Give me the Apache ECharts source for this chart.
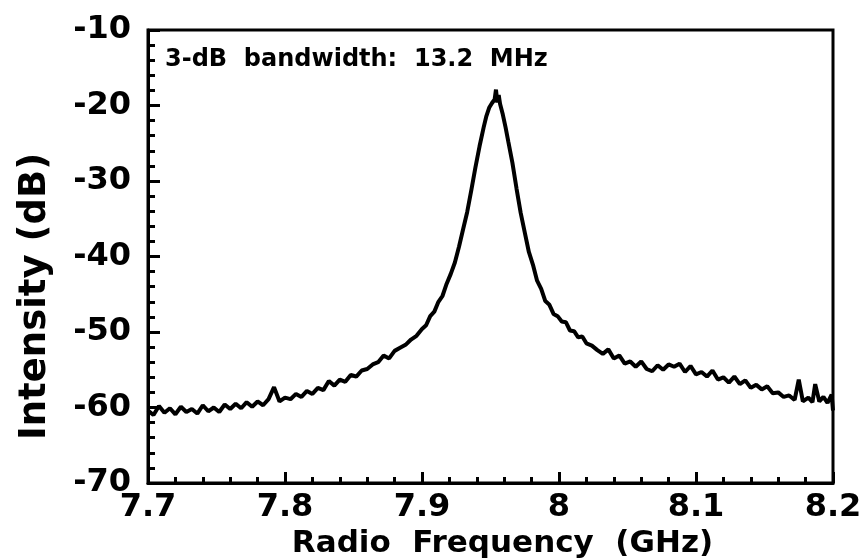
<!DOCTYPE html>
<html>
<head>
<meta charset="utf-8">
<script src="https://cdn.jsdelivr.net/npm/echarts@6/dist/echarts.min.js"></script>
<style>html,body{margin:0;padding:0;background:#fff}#c{width:863px;height:559px}</style>
</head>
<body>
<div id="c"></div>
<script>
// Frequency (GHz)
var freq = [
7.700,7.704,7.708,7.712,7.716,7.720,7.724,7.728,7.732,7.736,7.740,7.744,7.748,7.752,7.756,7.760,7.764,7.768,7.772,7.776,
7.780,7.784,7.788,7.792,7.796,7.800,7.804,7.808,7.812,7.816,7.820,7.824,7.828,7.832,7.836,7.840,7.844,7.848,7.852,7.856,
7.860,7.864,7.868,7.872,7.876,7.880,7.884,7.888,7.892,7.896,7.900,7.903,7.906,7.909,7.912,7.915,7.918,7.921,7.924,7.927,
7.930,7.933,7.936,7.939,7.942,7.945,7.947,7.949,7.951,7.953,7.954,7.955,7.956,7.957,7.959,7.961,7.963,7.966,7.969,7.972,
7.975,7.978,7.981,7.984,7.987,7.990,7.993,7.996,7.999,8.002,8.005,8.008,8.011,8.014,8.017,8.020,8.024,8.028,8.032,8.036,
8.040,8.044,8.048,8.052,8.056,8.060,8.064,8.068,8.072,8.076,8.080,8.084,8.088,8.092,8.096,8.100,8.104,8.108,8.112,8.116,
8.120,8.124,8.128,8.132,8.136,8.140,8.144,8.148,8.152,8.156,8.160,8.164,8.168,8.172,8.175,8.178,8.182,8.185,8.187,8.190,
8.193,8.196,8.199,8.200
];
// Intensity (dB)
var intensity = [
-60.4,-61.0,-59.8,-60.7,-60.1,-60.9,-59.9,-60.6,-60.2,-60.8,-59.7,-60.5,-60.0,-60.6,-59.6,-60.2,-59.5,-60.1,-59.3,-59.9,
-59.2,-59.7,-58.9,-57.3,-59.2,-58.7,-58.9,-58.2,-58.6,-57.8,-58.2,-57.4,-57.7,-56.5,-57.1,-56.3,-56.6,-55.7,-55.9,-55.1,
-54.9,-54.3,-54.0,-53.1,-53.5,-52.5,-52.1,-51.7,-51.0,-50.5,-49.6,-49.1,-47.9,-47.3,-46.0,-45.2,-43.6,-42.3,-40.8,-38.7,
-36.4,-34.1,-31.2,-28.2,-25.4,-22.9,-21.4,-20.3,-19.7,-19.2,-17.9,-19.6,-18.6,-19.8,-21.2,-22.9,-24.8,-27.6,-31.0,-34.2,
-36.8,-39.4,-41.1,-43.2,-44.3,-45.9,-46.4,-47.6,-47.9,-48.6,-48.7,-49.8,-49.9,-50.7,-50.6,-51.5,-51.8,-52.4,-52.9,-52.3,
-53.5,-53.1,-54.2,-53.9,-54.6,-53.9,-54.9,-55.2,-54.4,-55.0,-54.3,-54.6,-54.2,-55.3,-54.5,-55.6,-55.3,-55.9,-55.1,-56.3,
-56.0,-56.7,-55.9,-56.9,-56.4,-57.4,-57.0,-57.6,-57.2,-58.1,-58.0,-58.6,-58.4,-59.0,-56.3,-59.2,-58.7,-59.3,-56.9,-59.2,
-58.6,-59.4,-58.3,-60.4
];
var xTickLabels = ['7.7','7.8','7.9','8','8.1','8.2'];
var yTickLabels = ['-70','-60','-50','-40','-30','-20','-10'];
var annotation = '3-dB  bandwidth:  13.2  MHz';
var xTitle = 'Radio  Frequency  (GHz)';
var yTitle = 'Intensity (dB)';

var FONT = 'DejaVu Sans';
var pts = freq.map(function (f, i) { return [f, intensity[i]]; });

var chart = echarts.init(document.getElementById('c'), null, {renderer: 'canvas'});
chart.setOption({
  animation: false,
  backgroundColor: '#fff',
  grid: {left: 148, right: 30, top: 30, bottom: 76, containLabel: false, outerBoundsMode: 'none',
         show: true, borderColor: '#000', borderWidth: 3},
  xAxis: {
    type: 'value', min: 7.7, max: 8.2, interval: 0.1,
    axisLine: {show: true, onZero: false, lineStyle: {color: '#000', width: 3}},
    axisTick: {show: true, inside: true, length: 11, lineStyle: {color: '#000', width: 3}},
    minorTick: {show: true, splitNumber: 5, length: 6, lineStyle: {color: '#000', width: 3}},
    splitLine: {show: false},
    axisLabel: {
      margin: 9, color: '#000', fontFamily: FONT, fontWeight: 'bold', fontSize: 32,
      formatter: function (v) { return xTickLabels[Math.round((v - 7.7) * 10)]; }
    },
    name: xTitle, nameLocation: 'middle', nameGap: 45,
    nameTextStyle: {color: '#000', fontFamily: FONT, fontWeight: 'bold', fontSize: 31, padding: [0, 0, 0, 24]}
  },
  yAxis: {
    type: 'value', min: -70, max: -10, interval: 10,
    axisLine: {show: true, onZero: false, lineStyle: {color: '#000', width: 3}},
    axisTick: {show: true, inside: true, length: 12, lineStyle: {color: '#000', width: 3}},
    minorTick: {show: true, splitNumber: 5, length: 7, lineStyle: {color: '#000', width: 3}},
    splitLine: {show: false},
    axisLabel: {
      margin: 17, color: '#000', fontFamily: FONT, fontWeight: 'bold', fontSize: 32,
      padding: [0, 0, 10, 0],
      formatter: function (v) { return yTickLabels[Math.round((v + 70) / 10)]; }
    },
    name: yTitle, nameLocation: 'middle', nameGap: 94, nameRotate: 90,
    nameTextStyle: {color: '#000', fontFamily: FONT, fontWeight: 'bold', fontSize: 37, padding: [0, 80, 0, 0]}
  },
  graphic: [{
    type: 'text', left: 165, top: 48,
    style: {text: annotation, fill: '#000', font: 'bold 24px "DejaVu Sans"'}
  }],
  series: [{
    type: 'line', data: pts, showSymbol: false, symbol: 'none',
    lineStyle: {color: '#000', width: 4}
  }]
});
</script>
</body>
</html>
